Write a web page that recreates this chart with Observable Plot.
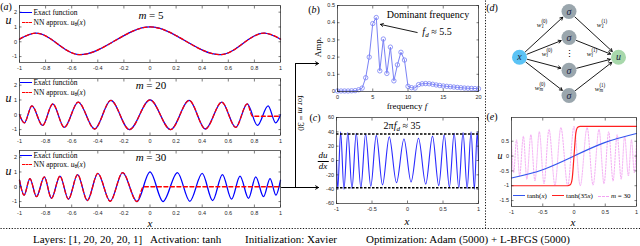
<!DOCTYPE html>
<html>
<head>
<meta charset="utf-8">
<script src="https://cdn.jsdelivr.net/npm/d3@7"></script>
<script src="https://cdn.jsdelivr.net/npm/@observablehq/plot@0.6"></script>
<style>
html,body{margin:0;padding:0;background:#fff;}
#fig{position:relative;width:640px;height:246px;overflow:hidden;background:#fff;}
</style>
</head>
<body>
<div id="fig"></div>
<script>
// ---------------- data ----------------
const xTicksA = [-1, -0.8, -0.6, -0.4, -0.2, 0, 0.2, 0.4, 0.6, 0.8, 1];
const yTicksA = [-1, 0, 1, 2];

// m = 5 : exact function (extrema)
const u5X = [-1, -0.875, -0.54, 0, 0.54, 0.875, 1];
const u5U = [0.18, 0.58, -0.87, 1.0, -0.87, 0.58, 0.18];

// m = 20
const u20X = [-1, -0.963, -0.905, -0.823, -0.745, -0.657, -0.55, -0.425, -0.30, -0.158, 0,
              0.158, 0.30, 0.425, 0.55, 0.657, 0.745, 0.823, 0.905, 0.963, 1];
const u20U = [0.0, -0.55, 0.6, -0.72, 0.74, -0.85, 0.85, -0.96, 0.97, -1.0, 1.0,
              -1.0, 0.97, -0.96, 0.85, -0.85, 0.74, -0.72, 0.6, -0.55, 0.0];
const nn20Cut = 0.785, nn20Flat = -0.1;

// m = 30
const u30X = [-1, -0.965, -0.92, -0.87, -0.81, -0.755, -0.69, -0.625, -0.555, -0.48, -0.40, -0.305, -0.21, -0.10, 0,
              0.10, 0.21, 0.305, 0.40, 0.48, 0.555, 0.625, 0.69, 0.755, 0.81, 0.87, 0.92, 0.965, 1];
const u30U = [0.45, -0.56, 0.55, -0.67, 0.67, -0.78, 0.72, -0.84, 0.82, -0.93, 0.9, -0.98, 0.96, -1.0, 1.0,
              -1.0, 0.96, -0.98, 0.9, -0.93, 0.82, -0.84, 0.72, -0.78, 0.67, -0.67, 0.55, -0.56, 0.45];
const nn30Cut = -0.05, nn30Flat = 0;

// (b) spectrum
const freq = [0, 0.5, 1, 1.5, 2, 2.5, 3, 3.5, 4, 4.5, 5, 5.5, 6, 6.5, 7, 7.5, 8, 8.5, 9, 9.5, 10,
              10.5, 11, 11.5, 12, 12.5, 13, 13.5, 14, 14.5, 15, 15.5, 16, 16.5, 17, 17.5, 18, 18.5, 19, 19.5, 20];
const amp  = [0.003, 0.003, 0.003, 0.003, 0.004, 0.005, 0.01, 0.02, 0.08, 0.2, 0.395, 0.43, 0.12, 0.305, 0.105, 0.258,
              0.062, 0.155, 0.228, 0.183, 0.03, 0.022, 0.02, 0.04, 0.045, 0.046, 0.045, 0.042, 0.038, 0.035, 0.032,
              0.03, 0.028, 0.026, 0.024, 0.022, 0.02, 0.019, 0.018, 0.017, 0.016];
const xTicksB = [0, 5, 10, 15, 20];
const yTicksB = [0, 0.1, 0.2, 0.3, 0.4, 0.5];

// (c) derivative of m = 30
const dX = [-1, -0.982, -0.942, -0.895, -0.84, -0.782, -0.722, -0.657, -0.59, -0.517, -0.44, -0.352, -0.257, -0.155, -0.05,
            0.05, 0.155, 0.257, 0.352, 0.44, 0.517, 0.59, 0.657, 0.722, 0.782, 0.84, 0.895, 0.942, 0.982, 1];
const dU = [0, -40, 40, -40, 39, -39, 38, -38, 37, -36, 35, -34, 33, -31, 30,
            -30, 31, -33, 34, -35, 36, -37, 38, -38, 39, -39, 40, -40, 40, 0];
const dashLevels = [37, -38];
const xTicksC = [-1, -0.5, 0, 0.5, 1];
const yTicksC = [-60, -40, -20, 0, 20, 40, 60];

// (e) activations
const tanhX = [-1, -0.5, 0, 0.5, 1];
const tanhU = [-0.74, -0.46, 0, 0.46, 0.76];
const tanh35X = [-1, -0.1, -0.06, -0.03, 0, 0.03, 0.06, 0.1, 1];
const tanh35U = [-1, -1, -0.97, -0.78, 0, 0.78, 0.97, 1, 1];
const xTicksE = [-1, -0.5, 0, 0.5, 1];
const yTicksE = [-1.5, -1, -0.5, 0, 0.5];

// (d) network layout
const layerX = [0, 1, 2];
const hiddenY = [0, 0.31, 0.70, 1.0];
const ioY = 0.544;

// ---------------- helpers ----------------
const fig = document.getElementById('fig');
const SANS = '"Liberation Sans", Arial, sans-serif';
const SERIF = '"Liberation Serif", "Times New Roman", serif';
const AX = '#262626';
const zip = (X, Y) => X.map((x, i) => ({x, y: Y[i]}));

function place(el, left, top) {
  el.style.position = 'absolute';
  el.style.left = left + 'px';
  el.style.top = top + 'px';
  fig.appendChild(el);
  return el;
}
function label(html, cx, cy, size, extra = '') {
  const d = document.createElement('div');
  d.innerHTML = html;
  d.style.cssText = `position:absolute;left:${cx}px;top:${cy}px;transform:translate(-50%,-50%) ${extra};font-family:${SERIF};font-size:${size}px;line-height:1;white-space:nowrap;color:#000;`;
  fig.appendChild(d);
  return d;
}
function labelL(html, left, cy, size) {
  const d = document.createElement('div');
  d.innerHTML = html;
  d.style.cssText = `position:absolute;left:${left}px;top:${cy}px;transform:translate(0,-50%);font-family:${SERIF};font-size:${size}px;line-height:1;white-space:nowrap;color:#000;`;
  fig.appendChild(d);
  return d;
}
function swatch(x0, x1, y, color, style = 'solid', w = 1.3) {
  const d = document.createElement('div');
  d.style.cssText = `position:absolute;left:${x0}px;top:${y - w / 2}px;width:${x1 - x0}px;height:0;border-top:${w}px ${style} ${color};`;
  fig.appendChild(d);
}
function panel({fx0, fx1, fy0, fy1, xDomain, yDomain, xTicks, yTicks, marks, ml = 24, mr = 6, mt = 6, mb = 12, tick = 2.5, fs = 5.5}) {
  const fmt = d => String(d);
  const p = Plot.plot({
    width: fx1 - fx0 + ml + mr,
    height: fy1 - fy0 + mt + mb,
    marginLeft: ml, marginRight: mr, marginTop: mt, marginBottom: mb,
    x: {domain: xDomain},
    y: {domain: yDomain},
    style: {fontFamily: SANS, fontSize: fs + 'px', color: AX, background: 'transparent', overflow: 'visible'},
    marks: [
      ...marks,
      Plot.axisX(xTicks, {anchor: 'bottom', label: null, tickSize: -tick, tickPadding: tick + 3.5, tickFormat: fmt, strokeWidth: 0.6}),
      Plot.axisX(xTicks, {anchor: 'top', label: null, tickSize: -tick, tickFormat: () => '', strokeWidth: 0.6}),
      Plot.axisY(yTicks, {anchor: 'left', label: null, tickSize: -tick, tickPadding: tick + 2.5, tickFormat: fmt, strokeWidth: 0.6}),
      Plot.axisY(yTicks, {anchor: 'right', label: null, tickSize: -tick, tickFormat: () => '', strokeWidth: 0.6}),
      Plot.frame({stroke: AX, strokeWidth: 0.7})
    ]
  });
  place(p, fx0 - ml, fy0 - mt);
  return p;
}

// ---------------- overlay: separators and connectors ----------------
const seps = [{x1: 0, y1: 228, x2: 640, y2: 228}, {x1: 485, y1: 0, x2: 485, y2: 228}];
const conLinks = [{x1: 295, y1: 187, x2: 295, y2: 63}];
const conArrows = [{x1: 295, y1: 63, x2: 318, y2: 63}, {x1: 281, y1: 187, x2: 318, y2: 187}];
place(Plot.plot({
  width: 640, height: 246, margin: 0, axis: null,
  x: {type: 'identity'}, y: {type: 'identity'},
  style: {background: 'transparent', overflow: 'visible'},
  marks: [
    Plot.link(seps, {x1: 'x1', y1: 'y1', x2: 'x2', y2: 'y2', stroke: '#111', strokeWidth: 1, strokeDasharray: '1.2,1.6'}),
    Plot.link(conLinks, {x1: 'x1', y1: 'y1', x2: 'x2', y2: 'y2', stroke: '#000', strokeWidth: 1}),
    Plot.arrow(conArrows, {x1: 'x1', y1: 'y1', x2: 'x2', y2: 'y2', stroke: '#000', strokeWidth: 1, headLength: 5})
  ]
}), 0, 0);

// ---------------- (a) three subplots ----------------
const yDomA = [-1.4, 2.45];
function nnData(X, U, cut, flat) {
  const pts = zip(X, U).filter(d => d.x < cut);
  pts.push({x: cut, y: flat}, {x: 1, y: flat});
  return pts;
}
const rowsA = [
  {m: 5,  fy0: 5,   exact: zip(u5X, u5U),   nn: zip(u5X, u5U), leg: [13, 23], title: 15, ulab: 19.5},
  {m: 20, fy0: 78,  exact: zip(u20X, u20U), nn: nnData(u20X, u20U, nn20Cut, nn20Flat), leg: [83, 93], title: 85, ulab: 98},
  {m: 30, fy0: 150, exact: zip(u30X, u30U), nn: nnData(u30X, u30U, nn30Cut, nn30Flat), leg: [156, 165], title: 157, ulab: 171}
];
for (const r of rowsA) {
  panel({
    fx0: 19, fx1: 280, fy0: r.fy0, fy1: r.fy0 + 57,
    xDomain: [-1, 1], yDomain: yDomA, xTicks: xTicksA, yTicks: yTicksA,
    marks: [
      Plot.line(r.exact, {x: 'x', y: 'y', stroke: '#0000ff', strokeWidth: 1.3, curve: 'monotone-x'}),
      Plot.line(r.nn, {x: 'x', y: 'y', stroke: '#ff0000', strokeWidth: 1.3, strokeDasharray: '4,2.5', curve: 'monotone-x'})
    ]
  });
  swatch(20, 32, r.leg[0], '#0000ff');
  swatch(22, 32, r.leg[1], '#ff0000', 'dashed');
  labelL('Exact function', 33.5, r.leg[0], 7.5);
  labelL('NN approx. <i>u</i><span style="font-size:70%;position:relative;top:0.25em">θ</span>(<i>x</i>)', 33.5, r.leg[1], 7.5);
  label(`<i>m</i> = ${r.m}`, 151, r.title, 11);
  label('<i>u</i>', 8.5, r.ulab, 12);
}
label('<i>x</i>', 150, 223, 11);
label('(<i>a</i>)', 6, 7, 10);

// ---------------- (b) spectrum ----------------
const spec = zip(freq, amp);
const annB = [{x1: 11.3, y1: 0.343, x2: 6.1, y2: 0.39}];
panel({
  fx0: 337, fx1: 478, fy0: 5, fy1: 91,
  xDomain: [0, 20], yDomain: [0, 0.5], xTicks: xTicksB, yTicks: yTicksB,
  marks: [
    Plot.line(spec, {x: 'x', y: 'y', stroke: '#7a82f5', strokeWidth: 1}),
    Plot.dot(spec, {x: 'x', y: 'y', r: 2.2, stroke: '#7a82f5', strokeWidth: 0.8, fill: 'none'}),
    Plot.arrow(annB, {x1: 'x1', y1: 'y1', x2: 'x2', y2: 'y2', stroke: '#000', strokeWidth: 0.9, headLength: 5})
  ]
});
label('(<i>b</i>)', 314, 10, 10);
label('Amp.', 318, 47, 9, 'rotate(-90deg)');
label('frequency <i>f</i>', 407, 106, 9);
label('Dominant frequency', 428, 15, 10);
label('<i>f<span style="font-size:70%;position:relative;top:0.3em">d</span></i> ≈ 5.5', 437, 32, 10);

// ---------------- (c) derivative ----------------
panel({
  fx0: 336, fx1: 478, fy0: 117, fy1: 203,
  xDomain: [-1, 1], yDomain: [-60, 60], xTicks: xTicksC, yTicks: yTicksC,
  marks: [
    Plot.line(zip(dX, dU), {x: 'x', y: 'y', stroke: '#2b2bff', strokeWidth: 1.1, curve: 'monotone-x'}),
    Plot.ruleY(dashLevels, {stroke: '#000', strokeWidth: 1.3, strokeDasharray: '2.5,1.5'})
  ]
});
label('(<i>c</i>)', 315, 118, 10);
label('2π<i>f<span style="font-size:70%;position:relative;top:0.3em">d</span></i> ≈ 35', 402, 126, 10);
label('<div style="display:flex;flex-direction:column;align-items:center;"><span><i>du</i></span><span style="border-top:0.8px solid #000;padding:0 1px;margin-top:1px;"><i>dx</i></span></div>', 323, 161, 9);
label('<i>x</i>', 407, 221, 11);

// connector text
label('for <i>m</i> = 30', 301, 113, 8.5, 'rotate(90deg)');

// ---------------- (d) network ----------------
const nodes = [
  {lx: layerX[0], ly: ioY, t: 'x', c: '#5bc3f5'},
  ...hiddenY.map(h => ({lx: layerX[1], ly: h, t: 'σ', c: '#9aa6ad'})),
  {lx: layerX[2], ly: ioY, t: 'u', c: '#a8d8ab'}
];
const edges = [
  ...hiddenY.map(h => ({x1: layerX[0], y1: ioY, x2: layerX[1], y2: h})),
  ...hiddenY.map(h => ({x1: layerX[1], y1: h, x2: layerX[2], y2: ioY}))
];
const vdots = [{lx: layerX[1], ly: (hiddenY[1] + hiddenY[2]) / 2}];
place(Plot.plot({
  width: 155, height: 110, margin: 0, axis: null,
  x: {domain: [0, 2], range: [34, 133]},
  y: {domain: [0, 1], range: [11, 95]},
  style: {background: 'transparent', overflow: 'visible'},
  marks: [
    Plot.arrow(edges, {x1: 'x1', y1: 'y1', x2: 'x2', y2: 'y2', stroke: '#000', strokeWidth: 0.9, headLength: 5, insetStart: 8, insetEnd: 8.5}),
    Plot.dot(nodes, {x: 'lx', y: 'ly', r: 7.5, fill: 'c'}),
    Plot.text(nodes, {x: 'lx', y: 'ly', text: 't', fontSize: 10, fontStyle: 'italic', fontFamily: SERIF, fill: '#1b2440'}),
    Plot.text(vdots, {x: 'lx', y: 'ly', text: () => '⋮', fontSize: 9, fill: '#000'})
  ]
}), 485, 0);
function wLab(sub, sup) {
  return `<i>w</i><span style="display:inline-flex;flex-direction:column;vertical-align:middle;font-size:72%;line-height:0.95;"><span>(${sup})</span><span><i>${sub}</i></span></span>`;
}
label(wLab('1', '0'), 542, 25, 7);
label(wLab('i', '0'), 547, 54, 7);
label(wLab('m', '0'), 540, 88, 7);
label(wLab('1', '1'), 602, 25, 7);
label(wLab('i', '1'), 592, 54, 7);
label(wLab('m', '1'), 600, 89, 7);
label('(<i>d</i>)', 492, 8, 10);

// ---------------- (e) activations ----------------
panel({
  fx0: 511, fx1: 636, fy0: 117, fy1: 206,
  xDomain: [-1, 1], yDomain: [-1.7, 1.3], xTicks: xTicksE, yTicks: yTicksE, mr: 3,
  marks: [
    Plot.line(zip(u30X, u30U), {x: 'x', y: 'y', stroke: '#f2a2f2', strokeWidth: 0.9, strokeDasharray: '1.6,1.4', curve: 'monotone-x'}),
    Plot.line(zip(tanhX, tanhU), {x: 'x', y: 'y', stroke: '#3355ee', strokeWidth: 1.2, curve: 'natural'}),
    Plot.line(zip(tanh35X, tanh35U), {x: 'x', y: 'y', stroke: '#ff2020', strokeWidth: 1.2, curve: 'monotone-x'})
  ]
});
label('(<i>e</i>)', 492, 117, 10);
label('<i>u</i>', 500, 156, 10);
label('<i>x</i>', 573, 222, 11);
swatch(513, 525, 196, '#3355ee', 'solid', 1.2);
labelL('tanh(<i>x</i>)', 527, 196, 7);
swatch(552, 564, 196, '#ff2020', 'solid', 1.2);
labelL('tanh(35<i>x</i>)', 566, 196, 7);
swatch(598, 609, 196, '#f2a2f2', 'dashed', 1);
labelL('<i>m</i> = 30', 611, 196, 7);

// ---------------- bottom line ----------------
labelL('Layers: [1, 20, 20, 20, 1]', 33, 239, 11);
labelL('Activation: tanh', 150, 239, 11);
labelL('Initialization: Xavier', 245, 239, 11);
labelL('Optimization: Adam (5000) + L-BFGS (5000)', 366, 239, 11);
</script>
</body>
</html>
